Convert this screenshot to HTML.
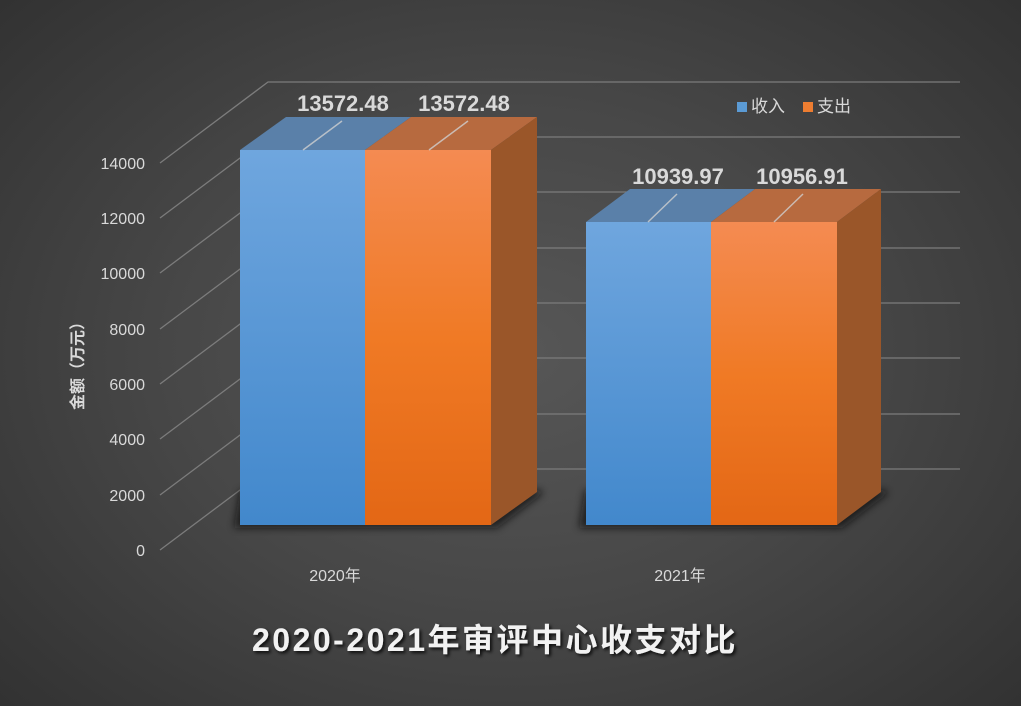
<!DOCTYPE html>
<html><head><meta charset="utf-8"><style>
html,body{margin:0;padding:0;}
body{width:1021px;height:706px;overflow:hidden;background:radial-gradient(ellipse 75% 80% at 50% 50%,#575757 0%,#474747 45%,#2e2e2e 100%);font-family:"Liberation Sans","Noto Sans CJK SC",sans-serif;}
</style></head><body>
<svg width="1021" height="706" viewBox="0 0 1021 706" xmlns="http://www.w3.org/2000/svg" style="position:absolute;left:0;top:0">
<defs>
<linearGradient id="bf" x1="0" y1="0" x2="0" y2="1"><stop offset="0" stop-color="#6fa6de"/><stop offset="1" stop-color="#4288cc"/></linearGradient>
<linearGradient id="of" x1="0" y1="0" x2="0" y2="1"><stop offset="0" stop-color="#f48b52"/><stop offset="0.5" stop-color="#f07a25"/><stop offset="1" stop-color="#e36715"/></linearGradient>
<filter id="sh" x="-20%" y="-20%" width="140%" height="140%"><feGaussianBlur stdDeviation="4"/></filter>
<filter id="ts"><feDropShadow dx="2" dy="2" stdDeviation="1.5" flood-color="#000" flood-opacity="0.8"/></filter>
</defs>
<g stroke="#7c7c7c" stroke-width="1.3" fill="none">
<path d="M160,550 L268,469 L960,469"/>
<path d="M160,495 L268,414 L960,414"/>
<path d="M160,439 L268,358 L960,358"/>
<path d="M160,384 L268,303 L960,303"/>
<path d="M160,329 L268,248 L960,248"/>
<path d="M160,273 L268,192 L960,192"/>
<path d="M160,218 L268,137 L960,137"/>
<path d="M160,163 L268,82 L960,82"/>
</g>
<g fill="#111" filter="url(#sh)" opacity="0.7">
<polygon points="234,528 497,528 542,494 542,490 240,490"/>
<polygon points="579,528 842,528 887,494 887,490 585,490"/>
</g>
<polygon points="240,150 365,150 411,117 286,117" fill="#5a80a9"/>
<polygon points="365,150 491,150 537,117 411,117" fill="#b76a3f"/>
<polygon points="491,150 537,117 537,492 491,525" fill="#9a5629"/>
<rect x="240" y="150" width="125" height="375" fill="url(#bf)"/>
<rect x="365" y="150" width="126" height="375" fill="url(#of)"/>
<polygon points="586,222 711,222 755,189 630,189" fill="#5a80a9"/>
<polygon points="711,222 837,222 881,189 755,189" fill="#b76a3f"/>
<polygon points="837,222 881,189 881,492 837,525" fill="#9a5629"/>
<rect x="586" y="222" width="125" height="303" fill="url(#bf)"/>
<rect x="711" y="222" width="126" height="303" fill="url(#of)"/>
<g stroke="#d0d0d0" stroke-width="1.5" opacity="0.8">
<line x1="303" y1="150" x2="342" y2="121"/>
<line x1="429" y1="150" x2="468" y2="121"/>
<line x1="648" y1="222" x2="677" y2="194"/>
<line x1="774" y1="222" x2="803" y2="194"/>
</g>
<g fill="#d9d9d9" font-weight="bold" font-size="22" text-anchor="middle" font-family="Liberation Sans, sans-serif">
<text x="343" y="111">13572.48</text>
<text x="464" y="111">13572.48</text>
<text x="678" y="184">10939.97</text>
<text x="802" y="184">10956.91</text>
</g>
<g fill="#d9d9d9" font-size="16" text-anchor="end">
<text x="145" y="169">14000</text>
<text x="145" y="224">12000</text>
<text x="145" y="279">10000</text>
<text x="145" y="335">8000</text>
<text x="145" y="390">6000</text>
<text x="145" y="445">4000</text>
<text x="145" y="501">2000</text>
<text x="145" y="556">0</text>
</g>
<text transform="translate(83,362) rotate(-90)" fill="#d9d9d9" font-size="16" font-weight="bold" text-anchor="middle">金额（万元）</text>
<g fill="#d9d9d9" font-size="16" text-anchor="middle">
<text x="335" y="581">2020年</text>
<text x="680" y="581">2021年</text>
</g>
<rect x="737" y="102" width="10" height="10" fill="#5b9bd5"/>
<text x="751" y="112" fill="#d9d9d9" font-size="17">收入</text>
<rect x="803" y="102" width="10" height="10" fill="#ed7d31"/>
<text x="817" y="112" fill="#d9d9d9" font-size="17">支出</text>
<text x="495" y="651" fill="#f2f2f2" font-size="32" font-weight="bold" text-anchor="middle" filter="url(#ts)" letter-spacing="2.5">2020-2021年审评中心收支对比</text>
</svg>
</body></html>
